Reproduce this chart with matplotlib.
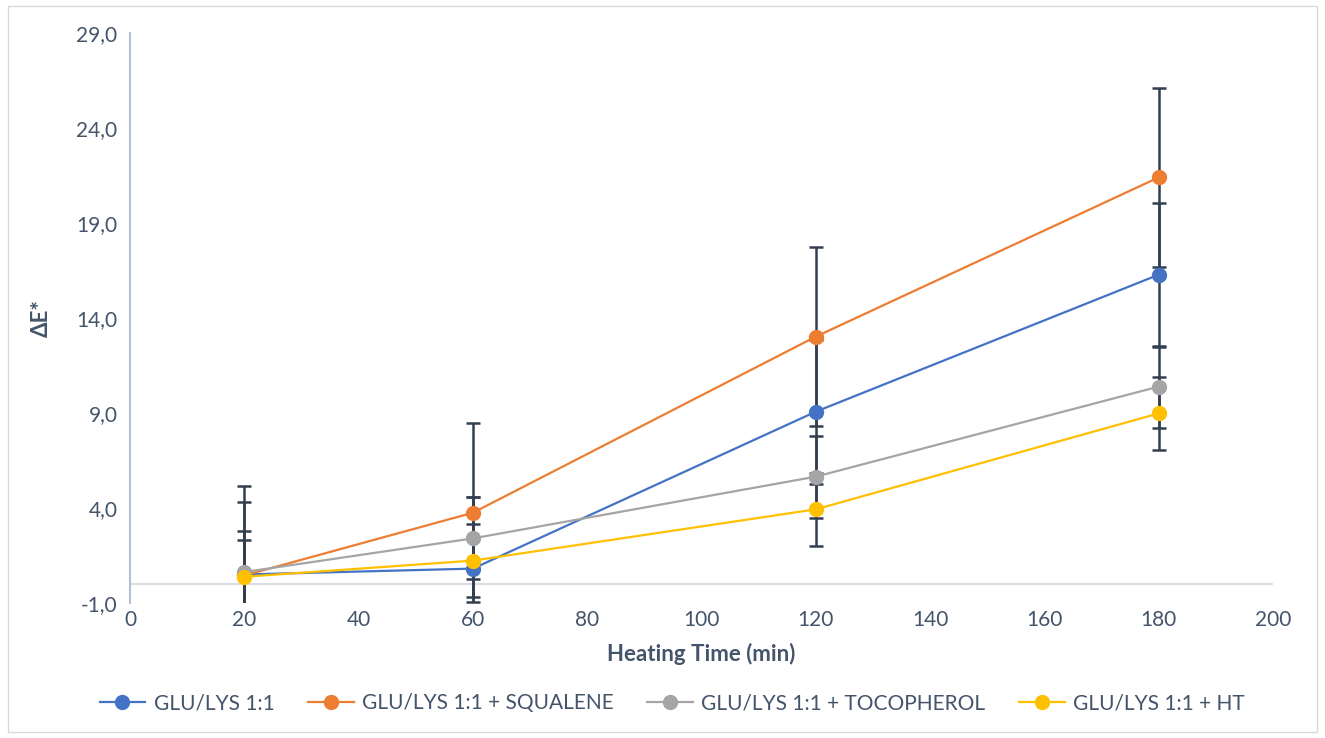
import matplotlib
matplotlib.use("Agg")
import matplotlib.pyplot as plt
from matplotlib.ticker import FuncFormatter
from matplotlib.patches import Rectangle

plt.rcParams['font.family'] = ['Lato', 'DejaVu Sans']

heating_time = [20, 60, 120, 180]
series_names = ["GLU/LYS 1:1", "GLU/LYS 1:1 + SQUALENE",
                "GLU/LYS 1:1 + TOCOPHEROL", "GLU/LYS 1:1 + HT"]
glu_lys = [0.5, 0.81, 9.07, 16.28]
glu_lys_squalene = [0.45, 3.75, 13.02, 21.4]
glu_lys_tocopherol = [0.63, 2.4, 5.65, 10.39]
glu_lys_ht = [0.38, 1.23, 3.93, 8.98]
err_glu_lys = 3.79
err_squalene = 4.72
err_tocopherol = 2.16
err_ht = 1.92
y_ticks = [-1, 4, 9, 14, 19, 24, 29]
x_ticks = [0, 20, 40, 60, 80, 100, 120, 140, 160, 180, 200]

colors = ["#4472C4", "#ED7D31", "#A5A5A5", "#FFC000"]
values = [glu_lys, glu_lys_squalene, glu_lys_tocopherol, glu_lys_ht]
errors = [err_glu_lys, err_squalene, err_tocopherol, err_ht]

fig = plt.figure(figsize=(13.25, 7.38), dpi=100)
ax = fig.add_axes([130/1325, 1-603/738, (1273-130)/1325, (603-33)/738])

err_color = "#333F50"
for vals, err in zip(values, errors):
    ax.errorbar(heating_time, vals, yerr=err, fmt='none', ecolor=err_color,
                elinewidth=1.8, capsize=5, capthick=1.8, zorder=2)

handles = []
for name, vals, c in zip(series_names, values, colors):
    h, = ax.plot(heating_time, vals, color=c, lw=1.6, marker='o', ms=10,
                 markeredgecolor=c, label=name, zorder=3)
    handles.append(h)

ax.set_xlim(0, 200)
ax.set_ylim(-1, 29)
ax.set_xticks(x_ticks)
ax.set_yticks(y_ticks)
ax.yaxis.set_major_formatter(FuncFormatter(lambda v, p: f"{v:.1f}".replace('.', ',')))
ax.tick_params(length=0, labelsize=15, labelcolor="#44546A", pad=9)
ax.tick_params(axis='x', pad=5)

for s in ['top', 'right', 'bottom']:
    ax.spines[s].set_visible(False)
ax.spines['left'].set_color("#B4C0D2")
ax.spines['left'].set_linewidth(1.5)
ax.axhline(0, color="#D9DEE6", lw=1.5, zorder=1)

ax.set_xlabel("Heating Time (min)", fontsize=16, fontweight='bold', color="#44546A", labelpad=9)
ax.set_ylabel("ΔE*", fontsize=16, fontweight='bold', color="#44546A", labelpad=18)

fig.legend(handles=handles, loc='center', bbox_to_anchor=(672/1325, 1-703/738),
           ncol=4, frameon=False, fontsize=15, labelcolor="#44546A",
           handlelength=2.2, columnspacing=1.6, handletextpad=0.4)

fig.patches.append(Rectangle((0.006, 0.008), 0.988, 0.984, transform=fig.transFigure,
                             fill=False, edgecolor="#D9D9D9", lw=1))

fig.savefig("out.png", dpi=100)
